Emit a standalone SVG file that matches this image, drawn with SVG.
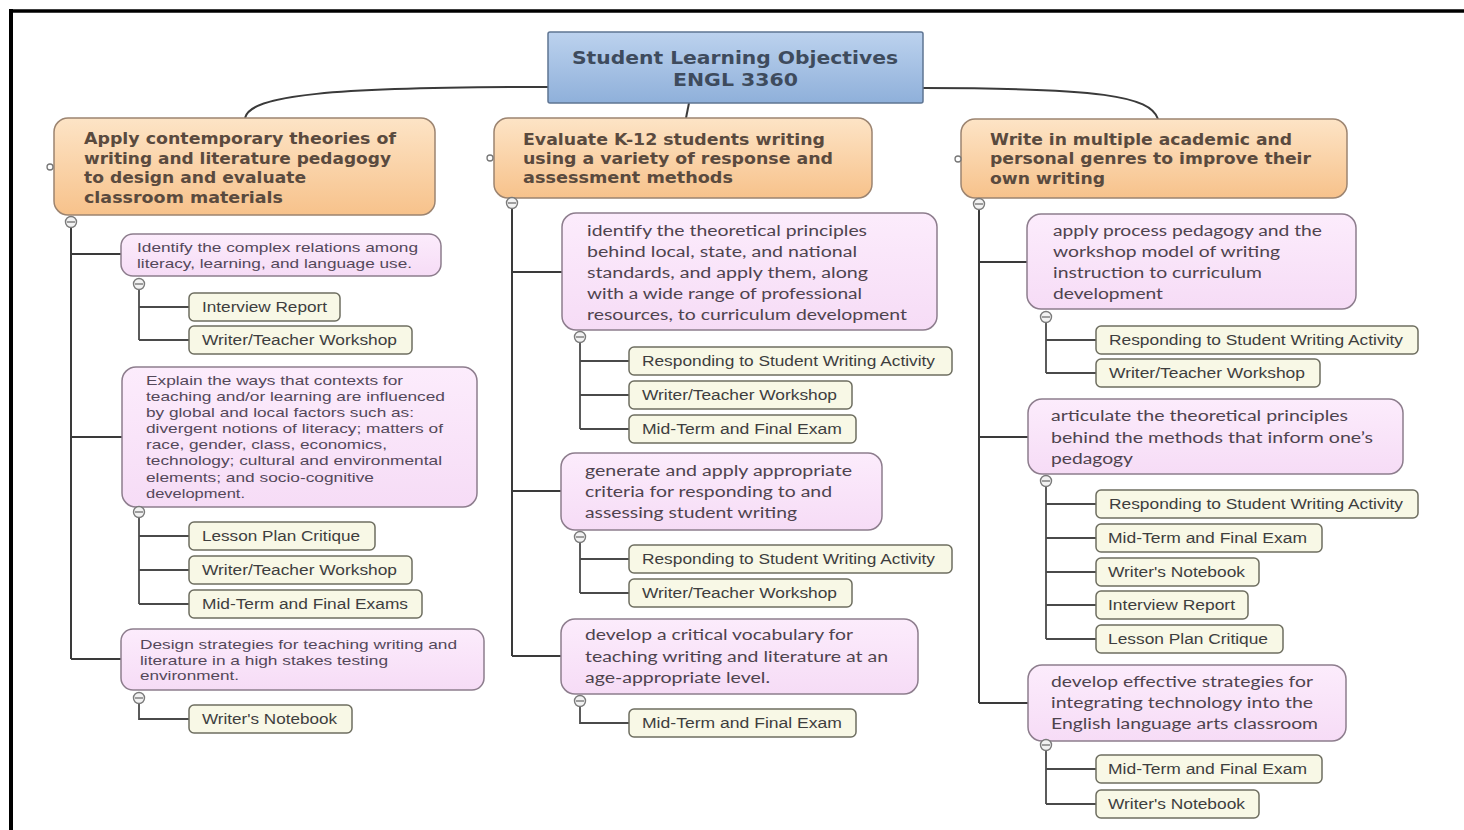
<svg xmlns="http://www.w3.org/2000/svg" width="1464" height="830" viewBox="0 0 1464 830">
<defs>
<linearGradient id="gRoot" x1="0" y1="0" x2="0" y2="1"><stop offset="0" stop-color="#bcd2ee"/><stop offset="1" stop-color="#8fb0da"/></linearGradient>
<linearGradient id="gOr" x1="0" y1="0" x2="0" y2="1"><stop offset="0" stop-color="#fde4c6"/><stop offset="1" stop-color="#f7c28b"/></linearGradient>
<linearGradient id="gPk" x1="0" y1="0" x2="0" y2="1"><stop offset="0" stop-color="#fcecfc"/><stop offset="1" stop-color="#f6dcf6"/></linearGradient>
<style>
.root rect{fill:url(#gRoot);stroke:#5f7593;stroke-width:1.5}
.root text{font-family:"DejaVu Sans",sans-serif;font-weight:bold;font-size:18px;fill:#3e4b5d;dominant-baseline:central}
.obj rect{fill:url(#gOr);stroke:#9c8470;stroke-width:1.5}
.obj text{font-family:"DejaVu Sans",sans-serif;font-weight:bold;font-size:15.5px;fill:#5a4a3e;dominant-baseline:central}
.sub rect{fill:url(#gPk);stroke:#8d7d8d;stroke-width:1.5}
.sub text{font-size:15.5px;font-family:Lato,"Open Sans",sans-serif;fill:#4e434e;dominant-baseline:central}
.sub.a text{font-family:"Liberation Sans",Arial,sans-serif;font-size:13.5px;fill:#54485a}
.leaf rect{fill:#f8f8e6;stroke:#6e6e60;stroke-width:1.5}
.leaf text{font-family:"Liberation Sans",Arial,sans-serif;font-size:14px;fill:#3e3e3e;dominant-baseline:central}
.ln{fill:none;stroke:#3a3a3a;stroke-width:2}
.ln2{fill:none;stroke:#4a4a4a;stroke-width:1.8}
.tg circle{fill:#f2f2f2;stroke:#7a7a7a;stroke-width:1.4}
.tg line{stroke:#7a7a7a;stroke-width:1.4}
.dot{fill:#fff;stroke:#777;stroke-width:1.3}
</style>
</defs>
<rect width="1464" height="830" fill="#ffffff"/>
<g id="frame">
<line x1="9" y1="11" x2="1464" y2="11" stroke="#000" stroke-width="3.5"/>
<line x1="11" y1="9" x2="11" y2="830" stroke="#000" stroke-width="4"/>
</g>
<g id="connectors">
<path class="ln" d="M548,87 C330,87 250,95 245,118"/>
<path class="ln" d="M923,88 C1100,88 1150,96 1158,119"/>
<path class="ln" d="M689,103 L686,118"/>
<path class="ln" d="M71,228 V659 M71,254 H121 M71,437 H122 M71,659 H121"/>
<path class="ln" d="M512,209 V656 M512,272 H562 M512,491 H561 M512,656 H561"/>
<path class="ln" d="M979,210 V703 M979,262 H1027 M979,437 H1028 M979,703 H1028"/>
<path class="ln2" d="M139,290 V340 M139,307 H189 M139,340 H189"/>
<path class="ln2" d="M139,518 V604 M139,536 H189 M139,570 H189 M139,604 H189"/>
<path class="ln2" d="M139,704 V719 H189"/>
<path class="ln2" d="M580,343 V429 M580,361 H629 M580,395 H629 M580,429 H629"/>
<path class="ln2" d="M580,543 V593 M580,559 H629 M580,593 H629"/>
<path class="ln2" d="M580,707 V723 H629"/>
<path class="ln2" d="M1046,323 V373 M1046,340 H1096 M1046,373 H1096"/>
<path class="ln2" d="M1046,487 V639 M1046,504 H1096 M1046,538 H1096 M1046,572 H1096 M1046,605 H1096 M1046,639 H1096"/>
<path class="ln2" d="M1046,751 V804 M1046,769 H1096 M1046,804 H1096"/>
</g>
<g id="root" class="root">
<rect x="548" y="32" width="375" height="71" rx="2"/>
<text x="572" y="57" textLength="326" lengthAdjust="spacingAndGlyphs">Student Learning Objectives</text>
<text x="673" y="79" textLength="125" lengthAdjust="spacingAndGlyphs">ENGL 3360</text>
</g>
<g id="obj1" class="obj">
<rect x="54" y="118" width="381" height="97" rx="14"/>
<text x="84" y="139" textLength="312" lengthAdjust="spacingAndGlyphs">Apply contemporary theories of</text>
<text x="84" y="159" textLength="307" lengthAdjust="spacingAndGlyphs">writing and literature pedagogy</text>
<text x="84" y="178" textLength="222" lengthAdjust="spacingAndGlyphs">to design and evaluate</text>
<text x="84" y="198" textLength="199" lengthAdjust="spacingAndGlyphs">classroom materials</text>
</g>
<g id="obj2" class="obj">
<rect x="494" y="118" width="378" height="80" rx="14"/>
<text x="523" y="140" textLength="302" lengthAdjust="spacingAndGlyphs">Evaluate K-12 students writing</text>
<text x="523" y="159" textLength="310" lengthAdjust="spacingAndGlyphs">using a variety of response and</text>
<text x="523" y="178" textLength="210" lengthAdjust="spacingAndGlyphs">assessment methods</text>
</g>
<g id="obj3" class="obj">
<rect x="961" y="119" width="386" height="79" rx="14"/>
<text x="990" y="140" textLength="302" lengthAdjust="spacingAndGlyphs">Write in multiple academic and</text>
<text x="990" y="159" textLength="321" lengthAdjust="spacingAndGlyphs">personal genres to improve their</text>
<text x="990" y="179" textLength="115" lengthAdjust="spacingAndGlyphs">own writing</text>
</g>
<g id="sub1a" class="sub a">
<rect x="121" y="234" width="320" height="42" rx="12"/>
<text x="137" y="247" textLength="281" lengthAdjust="spacingAndGlyphs">Identify the complex relations among</text>
<text x="137" y="263" textLength="275" lengthAdjust="spacingAndGlyphs">literacy, learning, and language use.</text>
</g>
<g id="sub1b" class="sub a">
<rect x="122" y="367" width="355" height="140" rx="14"/>
<text x="146" y="380" textLength="257" lengthAdjust="spacingAndGlyphs">Explain the ways that contexts for</text>
<text x="146" y="396" textLength="299" lengthAdjust="spacingAndGlyphs">teaching and/or learning are influenced</text>
<text x="146" y="412" textLength="268" lengthAdjust="spacingAndGlyphs">by global and local factors such as:</text>
<text x="146" y="428" textLength="297" lengthAdjust="spacingAndGlyphs">divergent notions of literacy; matters of</text>
<text x="146" y="444" textLength="241" lengthAdjust="spacingAndGlyphs">race, gender, class, economics,</text>
<text x="146" y="460" textLength="296" lengthAdjust="spacingAndGlyphs">technology; cultural and environmental</text>
<text x="146" y="477" textLength="228" lengthAdjust="spacingAndGlyphs">elements; and socio-cognitive</text>
<text x="146" y="493" textLength="99" lengthAdjust="spacingAndGlyphs">development.</text>
</g>
<g id="sub1c" class="sub a">
<rect x="121" y="629" width="363" height="61" rx="12"/>
<text x="140" y="644" textLength="317" lengthAdjust="spacingAndGlyphs">Design strategies for teaching writing and</text>
<text x="140" y="660" textLength="248" lengthAdjust="spacingAndGlyphs">literature in a high stakes testing</text>
<text x="140" y="675" textLength="99" lengthAdjust="spacingAndGlyphs">environment.</text>
</g>
<g id="sub2a" class="sub">
<rect x="562" y="213" width="375" height="117" rx="14"/>
<text x="587" y="230" textLength="280" lengthAdjust="spacingAndGlyphs">identify the theoretical principles</text>
<text x="587" y="251" textLength="270" lengthAdjust="spacingAndGlyphs">behind local, state, and national</text>
<text x="587" y="272" textLength="281" lengthAdjust="spacingAndGlyphs">standards, and apply them, along</text>
<text x="587" y="293" textLength="275" lengthAdjust="spacingAndGlyphs">with a wide range of professional</text>
<text x="587" y="314" textLength="320" lengthAdjust="spacingAndGlyphs">resources, to curriculum development</text>
</g>
<g id="sub2b" class="sub">
<rect x="561" y="453" width="321" height="77" rx="14"/>
<text x="585" y="470" textLength="267" lengthAdjust="spacingAndGlyphs">generate and apply appropriate</text>
<text x="585" y="491" textLength="247" lengthAdjust="spacingAndGlyphs">criteria for responding to and</text>
<text x="585" y="512" textLength="212" lengthAdjust="spacingAndGlyphs">assessing student writing</text>
</g>
<g id="sub2c" class="sub">
<rect x="561" y="619" width="357" height="75" rx="14"/>
<text x="585" y="634" textLength="268" lengthAdjust="spacingAndGlyphs">develop a critical vocabulary for</text>
<text x="585" y="656" textLength="303" lengthAdjust="spacingAndGlyphs">teaching writing and literature at an</text>
<text x="585" y="677" textLength="185" lengthAdjust="spacingAndGlyphs">age-appropriate level.</text>
</g>
<g id="sub3a" class="sub">
<rect x="1027" y="214" width="329" height="95" rx="14"/>
<text x="1053" y="230" textLength="269" lengthAdjust="spacingAndGlyphs">apply process pedagogy and the</text>
<text x="1053" y="251" textLength="227" lengthAdjust="spacingAndGlyphs">workshop model of writing</text>
<text x="1053" y="272" textLength="209" lengthAdjust="spacingAndGlyphs">instruction to curriculum</text>
<text x="1053" y="293" textLength="110" lengthAdjust="spacingAndGlyphs">development</text>
</g>
<g id="sub3b" class="sub">
<rect x="1028" y="399" width="375" height="75" rx="14"/>
<text x="1051" y="415" textLength="297" lengthAdjust="spacingAndGlyphs">articulate the theoretical principles</text>
<text x="1051" y="437" textLength="322" lengthAdjust="spacingAndGlyphs">behind the methods that inform one’s</text>
<text x="1051" y="458" textLength="82" lengthAdjust="spacingAndGlyphs">pedagogy</text>
</g>
<g id="sub3c" class="sub">
<rect x="1028" y="665" width="318" height="76" rx="14"/>
<text x="1051" y="681" textLength="262" lengthAdjust="spacingAndGlyphs">develop effective strategies for</text>
<text x="1051" y="702" textLength="262" lengthAdjust="spacingAndGlyphs">integrating technology into the</text>
<text x="1051" y="723" textLength="267" lengthAdjust="spacingAndGlyphs">English language arts classroom</text>
</g>
<g id="leaf1" class="leaf"><rect x="189" y="293" width="151" height="28" rx="5"/><text x="202" y="307" textLength="125" lengthAdjust="spacingAndGlyphs">Interview Report</text></g>
<g id="leaf2" class="leaf"><rect x="189" y="326" width="223" height="28" rx="5"/><text x="202" y="340" textLength="195" lengthAdjust="spacingAndGlyphs">Writer/Teacher Workshop</text></g>
<g id="leaf3" class="leaf"><rect x="189" y="522" width="186" height="28" rx="5"/><text x="202" y="536" textLength="158" lengthAdjust="spacingAndGlyphs">Lesson Plan Critique</text></g>
<g id="leaf4" class="leaf"><rect x="189" y="556" width="223" height="28" rx="5"/><text x="202" y="570" textLength="195" lengthAdjust="spacingAndGlyphs">Writer/Teacher Workshop</text></g>
<g id="leaf5" class="leaf"><rect x="189" y="590" width="233" height="28" rx="5"/><text x="202" y="604" textLength="206" lengthAdjust="spacingAndGlyphs">Mid-Term and Final Exams</text></g>
<g id="leaf6" class="leaf"><rect x="189" y="705" width="163" height="28" rx="5"/><text x="202" y="719" textLength="135" lengthAdjust="spacingAndGlyphs">Writer's Notebook</text></g>
<g id="leaf7" class="leaf"><rect x="629" y="347" width="323" height="28" rx="5"/><text x="642" y="361" textLength="293" lengthAdjust="spacingAndGlyphs">Responding to Student Writing Activity</text></g>
<g id="leaf8" class="leaf"><rect x="629" y="381" width="223" height="28" rx="5"/><text x="642" y="395" textLength="195" lengthAdjust="spacingAndGlyphs">Writer/Teacher Workshop</text></g>
<g id="leaf9" class="leaf"><rect x="629" y="415" width="227" height="28" rx="5"/><text x="642" y="429" textLength="200" lengthAdjust="spacingAndGlyphs">Mid-Term and Final Exam</text></g>
<g id="leaf10" class="leaf"><rect x="629" y="545" width="323" height="28" rx="5"/><text x="642" y="559" textLength="293" lengthAdjust="spacingAndGlyphs">Responding to Student Writing Activity</text></g>
<g id="leaf11" class="leaf"><rect x="629" y="579" width="223" height="28" rx="5"/><text x="642" y="593" textLength="195" lengthAdjust="spacingAndGlyphs">Writer/Teacher Workshop</text></g>
<g id="leaf12" class="leaf"><rect x="629" y="709" width="227" height="28" rx="5"/><text x="642" y="723" textLength="200" lengthAdjust="spacingAndGlyphs">Mid-Term and Final Exam</text></g>
<g id="leaf13" class="leaf"><rect x="1096" y="326" width="322" height="28" rx="5"/><text x="1109" y="340" textLength="294" lengthAdjust="spacingAndGlyphs">Responding to Student Writing Activity</text></g>
<g id="leaf14" class="leaf"><rect x="1096" y="359" width="224" height="28" rx="5"/><text x="1109" y="373" textLength="196" lengthAdjust="spacingAndGlyphs">Writer/Teacher Workshop</text></g>
<g id="leaf15" class="leaf"><rect x="1096" y="490" width="322" height="28" rx="5"/><text x="1109" y="504" textLength="294" lengthAdjust="spacingAndGlyphs">Responding to Student Writing Activity</text></g>
<g id="leaf16" class="leaf"><rect x="1096" y="524" width="226" height="28" rx="5"/><text x="1108" y="538" textLength="199" lengthAdjust="spacingAndGlyphs">Mid-Term and Final Exam</text></g>
<g id="leaf17" class="leaf"><rect x="1096" y="558" width="163" height="28" rx="5"/><text x="1108" y="572" textLength="137" lengthAdjust="spacingAndGlyphs">Writer's Notebook</text></g>
<g id="leaf18" class="leaf"><rect x="1096" y="591" width="152" height="28" rx="5"/><text x="1108" y="605" textLength="127" lengthAdjust="spacingAndGlyphs">Interview Report</text></g>
<g id="leaf19" class="leaf"><rect x="1096" y="625" width="187" height="28" rx="5"/><text x="1108" y="639" textLength="160" lengthAdjust="spacingAndGlyphs">Lesson Plan Critique</text></g>
<g id="leaf20" class="leaf"><rect x="1096" y="755" width="226" height="28" rx="5"/><text x="1108" y="769" textLength="199" lengthAdjust="spacingAndGlyphs">Mid-Term and Final Exam</text></g>
<g id="leaf21" class="leaf"><rect x="1096" y="790" width="163" height="28" rx="5"/><text x="1108" y="804" textLength="137" lengthAdjust="spacingAndGlyphs">Writer's Notebook</text></g>
<g id="toggles" class="tg">
<circle cx="71" cy="222" r="5.5"/><line x1="67" y1="222" x2="75" y2="222"/>
<circle cx="512" cy="203" r="5.5"/><line x1="508" y1="203" x2="516" y2="203"/>
<circle cx="979" cy="204" r="5.5"/><line x1="975" y1="204" x2="983" y2="204"/>
<circle cx="139" cy="284" r="5.5"/><line x1="135" y1="284" x2="143" y2="284"/>
<circle cx="139" cy="512" r="5.5"/><line x1="135" y1="512" x2="143" y2="512"/>
<circle cx="139" cy="698" r="5.5"/><line x1="135" y1="698" x2="143" y2="698"/>
<circle cx="580" cy="337" r="5.5"/><line x1="576" y1="337" x2="584" y2="337"/>
<circle cx="580" cy="537" r="5.5"/><line x1="576" y1="537" x2="584" y2="537"/>
<circle cx="580" cy="701" r="5.5"/><line x1="576" y1="701" x2="584" y2="701"/>
<circle cx="1046" cy="317" r="5.5"/><line x1="1042" y1="317" x2="1050" y2="317"/>
<circle cx="1046" cy="481" r="5.5"/><line x1="1042" y1="481" x2="1050" y2="481"/>
<circle cx="1046" cy="745" r="5.5"/><line x1="1042" y1="745" x2="1050" y2="745"/>
</g>
<g id="handles">
<circle class="dot" cx="50" cy="167" r="3"/>
<circle class="dot" cx="490" cy="158" r="3"/>
<circle class="dot" cx="958" cy="159" r="3"/>
</g>
</svg>
